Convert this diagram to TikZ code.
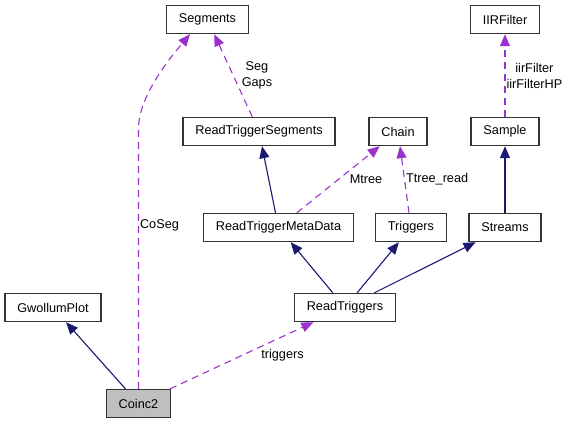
\documentclass[tikz,border=0pt]{standalone}
\usepackage{fontspec}
\setmainfont{Liberation Sans}
\usepackage{xcolor}
\usetikzlibrary{arrows.meta}
\definecolor{edgenavy}{HTML}{191970}
\definecolor{edgeorchid}{HTML}{9A32CD}
\tikzstyle{class} = [rectangle, minimum height=28pt, inner xsep=12.5pt, text centered, draw=black!80, line width=1.4pt, fill=white]
\tikzstyle{current} = [class, fill=black!25]
\tikzstyle{inherit} = [draw=edgenavy, line width=1.1pt, -{Triangle[length=12pt,width=10pt]}]
\tikzstyle{member} = [draw=edgeorchid, line width=1.1pt, dash pattern=on 7pt off 5pt, -{Triangle[length=12pt,width=10pt]}]
\tikzstyle{tag} = [inner sep=1pt, text=black]

\begin{document}
\begin{tikzpicture}[x=1pt, y=1pt, node distance=96pt, font=\fontsize{12.7}{16}\selectfont]
    \useasboundingbox (0,0) rectangle (569,-424);
    \node (Segments) [class] at (207.5,-19.5) {Segments};
    \node (ReadTriggerSegments) [class, below of=Segments, xshift=51.5pt, yshift=-16pt] {ReadTriggerSegments};
    \node (ReadTriggerMetaData) [class, below of=ReadTriggerSegments, xshift=19.5pt] {ReadTriggerMetaData};
    \node (ReadTriggers) [class, below of=ReadTriggerMetaData, xshift=66.5pt, yshift=16pt] {ReadTriggers};
    \node (Coinc2) [current, below of=ReadTriggers, xshift=-206.5pt] {Coinc2};
    \node (GwollumPlot) [class, above of=Coinc2, xshift=-85.5pt] {GwollumPlot};
    \node (Chain) [class, right of=ReadTriggerSegments, xshift=43pt] {Chain};
    \node (Triggers) [class, below of=Chain, xshift=13pt] {Triggers};
    \node (Sample) [class, right of=Chain, xshift=11pt] {Sample};
    \node (Streams) [class, below of=Sample] {Streams};
    \node (IIRFilter) [class, above of=Sample, yshift=16pt] {IIRFilter};
    \draw [inherit] (Coinc2) -- (GwollumPlot);
    \draw [member] (Coinc2) -- node [tag, right, xshift=18pt] {triggers} (ReadTriggers);
    \draw [member] (Coinc2.north) -- ++(0,260) node [tag, pos=0.63, right] {CoSeg} .. controls +(0,35) and +(-15,-18) .. ([xshift=-17.5pt]Segments.south);
    \draw [member] (ReadTriggerSegments) -- node [tag, right, xshift=7pt, align=center] {Seg\\Gaps} (Segments);
    \draw [inherit] (ReadTriggerMetaData) -- (ReadTriggerSegments);
    \draw [member] (ReadTriggerMetaData) -- node [tag, right, xshift=10pt] {Mtree} (Chain);
    \draw [member] (Triggers) -- node [tag, right] {Ttree\_read} (Chain);
    \draw [inherit] (ReadTriggers) -- (ReadTriggerMetaData);
    \draw [inherit] (ReadTriggers) -- (Triggers);
    \draw [inherit] (ReadTriggers) -- (Streams);
    \draw [inherit] (Streams) -- (Sample);
    \draw [member] (Sample) -- node [tag, right, align=center] {iirFilter\\iirFilterHP} (IIRFilter);
\end{tikzpicture}
\end{document}
